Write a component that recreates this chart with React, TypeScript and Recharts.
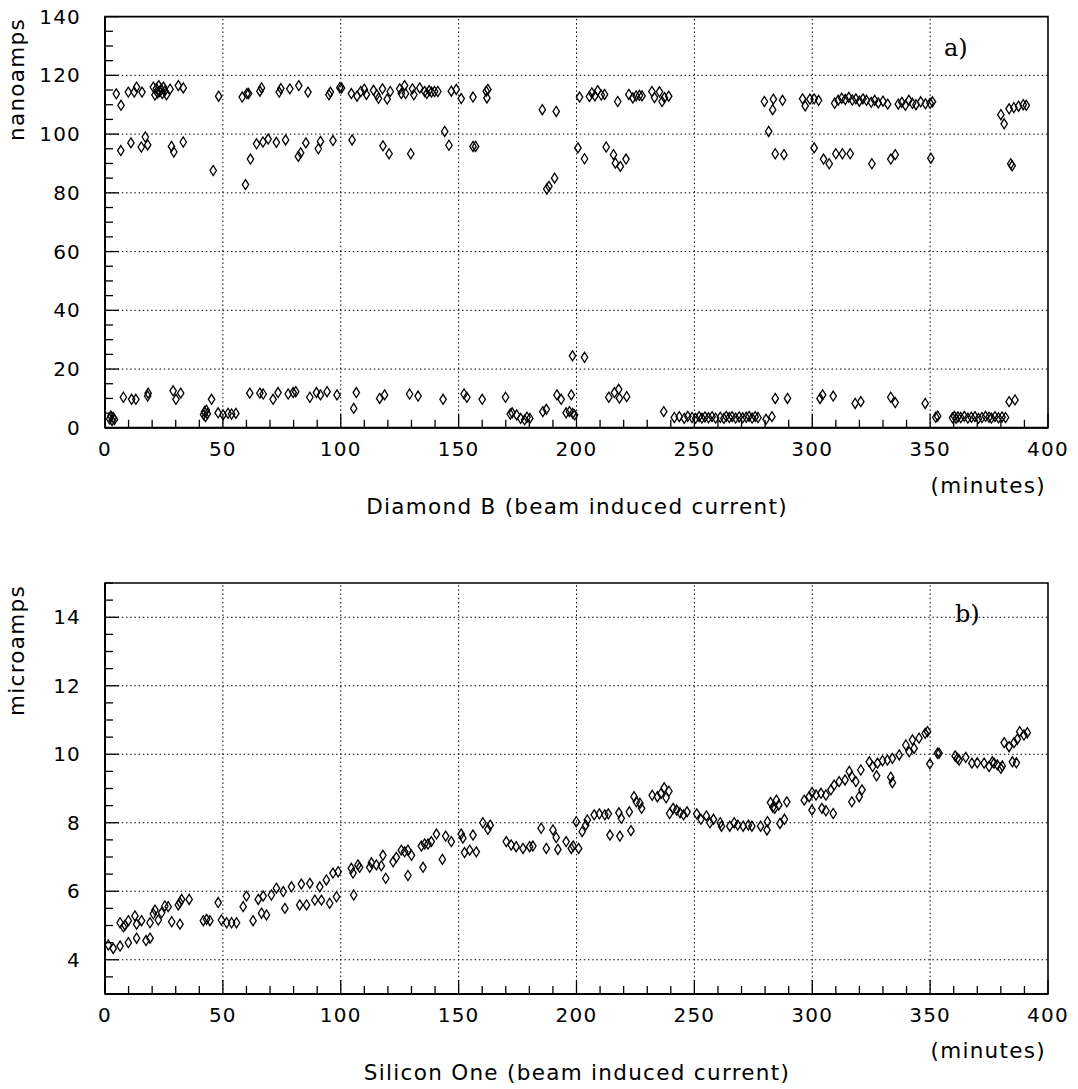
import React from 'react';
import { ScatterChart, Scatter, XAxis, YAxis, ReferenceLine, ReferenceArea } from 'recharts';

const FONT = '"DejaVu Sans", sans-serif';

// ---- axis ticks ----
const xTicks = [0, 10, 20, 30, 40, 50, 60, 70, 80, 90, 100, 110, 120, 130, 140, 150, 160, 170, 180, 190, 200, 210, 220, 230, 240, 250, 260, 270, 280, 290, 300, 310, 320, 330, 340, 350, 360, 370, 380, 390, 400];
const xMajor = [0, 50, 100, 150, 200, 250, 300, 350, 400];
const xGrid = [50, 100, 150, 200, 250, 300, 350];

const yTicksA = [0, 5, 10, 15, 20, 25, 30, 35, 40, 45, 50, 55, 60, 65, 70, 75, 80, 85, 90, 95, 100, 105, 110, 115, 120, 125, 130, 135, 140];
const yMajorA = [0, 20, 40, 60, 80, 100, 120, 140];
const yGridA = [20, 40, 60, 80, 100, 120];

const yTicksB = [3, 3.5, 4, 4.5, 5, 5.5, 6, 6.5, 7, 7.5, 8, 8.5, 9, 9.5, 10, 10.5, 11, 11.5, 12, 12.5, 13, 13.5, 14, 14.5, 15];
const yMajorB = [4, 6, 8, 10, 12, 14];
const yGridB = [4, 6, 8, 10, 12, 14];

// ---- Diamond B: [minutes, nanoamps] ----
const diamondUpper: [number, number][] = [
  [4.8, 113.7], [6.8, 109.8], [6.7, 94.4], [9.9, 114.3], [11, 97], [12.4, 114.3], [13.4, 116], [15.7, 114.3], [15.4, 95.6], [17.1, 99],
  [18.1, 96.3], [20.5, 116], [21.2, 113.3], [21.8, 115.5], [22.3, 114], [22.8, 116.5], [23.2, 114.5], [23.8, 115.2], [24.3, 113.8], [24.8, 116],
  [25.3, 114.6], [26.1, 113.4], [27.6, 115.3], [28.2, 95.8], [29.2, 93.9], [31.1, 116.5], [33.2, 115.7], [33.2, 97.3], [45.9, 87.6], [48.2, 112.9],
  [58.2, 112.6], [59.6, 82.8], [60.2, 113.8], [60.9, 113.8], [61.7, 91.5], [64.3, 96.7], [65.7, 114.6], [66.4, 115.7], [67, 97.3], [69.2, 98.3],
  [72.7, 97.2], [73.9, 114.3], [74.6, 115.5], [76.6, 98], [78.4, 115.4], [82, 92.4], [83, 93.6], [82.2, 116.5], [85.2, 97], [86.1, 114.3],
  [90.5, 95], [91.4, 97.5], [95, 113.4], [95.6, 114.3], [96.7, 97.8], [99.6, 115.8], [100.3, 115.7], [104.8, 98], [104.5, 113.8], [106.9, 112.9],
  [108.5, 114.5], [110, 115.3], [110.9, 113.5], [113.9, 114.9], [115.3, 113.4], [116, 112.2], [117.7, 115.4], [117.9, 96], [119.7, 111.9], [120.5, 93.3],
  [121, 114.5], [125, 115.4], [125.7, 113.8], [127.1, 116.5], [127.5, 113.8], [129.7, 93.3], [130.4, 115.4], [131, 113.4], [133.5, 115.7], [135.6, 114.5],
  [136.5, 113.8], [137.5, 114.8], [138.5, 114.3], [139.8, 114.5], [141.2, 114.5], [144.1, 100.9], [145.9, 96.2], [146.9, 114.6], [149, 115.2], [151.1, 112.1],
  [156.1, 95.8], [157.2, 95.8], [156.1, 112.6], [161.7, 114.6], [162.4, 115.2], [162, 112.3], [185.5, 108.3], [191.4, 107.7], [187.4, 81.3], [188.3, 82.2],
  [190.7, 85], [201.3, 112.6], [200.6, 95.3], [203.4, 91.6], [205.5, 112.8], [206.5, 114], [207.8, 113], [209, 114.8], [210.5, 113.3], [211.9, 113.5],
  [212.6, 95.6], [215.7, 93], [216.5, 90.1], [218.6, 89], [221, 91.5], [217.5, 111.1], [222.2, 113.5], [223.9, 112.3], [225.3, 113], [226.7, 113.2],
  [227.8, 113], [232, 114.5], [233.1, 112.4], [235.2, 114.4], [236.3, 111.1], [237.3, 112.4], [239.1, 112.9], [279.7, 111.1], [283.5, 111.9], [287.4, 111.5],
  [283.2, 108.3], [281.5, 100.9], [284.3, 93.3], [288, 93], [295.9, 112], [297, 109.6], [299, 111.9], [300.8, 112], [302.7, 111.5], [300.8, 95.3],
  [304.8, 91.5], [307.2, 89.9], [310, 93.3], [312.8, 93.3], [316.1, 93.3], [309.5, 110.5], [311, 111.5], [312.5, 112.2], [314, 111.8], [315.5, 112.5],
  [317, 111.6], [318.5, 112], [320, 111.2], [321.5, 112], [323, 111.5], [325, 110.8], [326.5, 111.5], [328, 110.6], [330, 111.2], [332, 110.2],
  [325.3, 89.9], [333.3, 91.5], [335.2, 93], [336.5, 110.2], [338, 110.8], [339.5, 109.8], [341, 111.5], [342.5, 110.5], [344, 110], [346, 111],
  [348, 110.3], [350, 110.5], [351, 111], [350.3, 91.8], [380, 106.6], [381.4, 103.5], [383.5, 108.6], [385.5, 109], [387.5, 109.5], [389.5, 110],
  [390.8, 109.8], [384.2, 89.9], [384.8, 89.2],
];

const diamondLower: [number, number][] = [
  [2, 3], [2.5, 4], [3, 2.5], [3.5, 3.5], [4, 2.8], [7.8, 10.4], [11.3, 9.7], [13.1, 9.7], [18.1, 10.8], [18.3, 11.8],
  [28.9, 12.6], [30.1, 9.7], [32.1, 11.8], [41.8, 4.5], [42.2, 5.5], [42.6, 3.8], [43, 6], [43.4, 4.8], [45.2, 9.7], [48, 5.1],
  [50.1, 4.4], [52.2, 4.9], [53.7, 4.7], [55.5, 4.9], [61.4, 11.8], [65.7, 11.8], [67.1, 11.5], [71.3, 9.7], [73.4, 12], [77.7, 11.5],
  [79.8, 12], [80.9, 12.3], [86.9, 10.4], [89.7, 12], [91.4, 11.2], [94.2, 12.3], [98.4, 11.2], [105.5, 6.6], [106.6, 12], [116.5, 10],
  [118.6, 11.2], [129.2, 11.5], [132.8, 10.8], [143.4, 9.7], [152.3, 11.5], [153.5, 10.4], [160, 9.7], [169.9, 10.4], [171.9, 4.7], [172.7, 5.1],
  [174.6, 4.4], [176.3, 3.2], [178, 2.7], [179, 3.6], [180.2, 3.2], [185.7, 5.5], [187.2, 6.3], [191.7, 11.2], [193.5, 9.7], [197.8, 11.2],
  [195.6, 5.1], [197, 5.5], [198.4, 4.9], [199.2, 4.4], [198.3, 24.5], [203.4, 24], [213.7, 10.4], [216.1, 12], [217.9, 13.1], [218.2, 10.1],
  [221.3, 10.6], [237, 5.5], [241.5, 3.5], [243.6, 3.8], [245.7, 3.2], [247.2, 3.9], [249, 3.5], [250.5, 3.2], [252, 3.8], [253.2, 3.3],
  [254.5, 3.7], [256, 3.4], [257.5, 3.8], [259, 3.3], [261, 3.6], [262.5, 3.2], [263.5, 3.9], [264.8, 3.5], [266, 3.8], [267.5, 3.3],
  [269, 3.7], [270.5, 3.4], [272, 3.6], [273.2, 3.9], [274.5, 3.3], [275.8, 3.8], [277, 3.5], [280.4, 2.9], [282.9, 3.8], [284.3, 10],
  [289.5, 10], [303.3, 10], [304.4, 11.2], [308.9, 10.8], [318.2, 8.3], [320.6, 8.9], [333.3, 10.4], [335.2, 8.6], [347.9, 8.3], [352.4, 3.6],
  [353.2, 4], [359.5, 3.4], [360.3, 3.9], [361, 3.2], [361.8, 3.7], [363, 3.5], [364.5, 3.9], [366, 3.3], [367.5, 3.6], [369, 3.8],
  [370.5, 3.2], [372, 3.5], [373.5, 3.9], [375, 3.6], [376, 3.3], [377.5, 3.8], [379, 3.4], [380.5, 3.7], [382, 3.5], [383.5, 8.9],
  [386, 9.5],
];

// ---- Silicon One: [minutes, microamps] ----
const siliconEarly: [number, number][] = [
  [1.4, 4.43], [3.5, 4.33], [6.4, 4.4], [9.9, 4.5], [13.4, 4.63], [17.4, 4.56], [19.1, 4.63], [6.4, 5.08], [7.8, 4.96], [8.5, 5.01],
  [9.9, 5.14], [12.7, 5.28], [13.4, 5.04], [15.5, 5.14], [19.1, 5.08], [20.5, 5.34], [21.2, 5.45], [22.6, 5.16], [24, 5.37], [25.4, 5.57],
  [26.8, 5.55], [28.3, 5.11], [31.8, 5.04], [31.1, 5.6], [31.8, 5.67], [32.5, 5.76], [35.7, 5.76], [41.7, 5.14], [43.1, 5.18], [44.5, 5.14],
  [48, 5.67], [49.4, 5.16], [51.6, 5.08], [53.7, 5.08], [55.8, 5.08], [58.6, 5.55], [60, 5.86], [62.8, 5.14], [65, 5.76], [66.4, 5.36],
  [67.1, 5.86], [68.5, 5.31], [70.6, 5.89], [72.7, 6.09], [75.6, 5.99], [76.3, 5.5], [79.1, 6.13], [82.6, 5.6], [83.3, 6.21], [85.5, 5.6],
  [86.9, 6.23], [89, 5.74], [91.1, 6.13], [91.8, 5.74], [93.9, 6.33], [95.3, 5.65], [96.7, 6.53], [98.2, 5.84], [98.9, 6.57], [104.5, 6.67],
  [105.2, 6.53], [105.5, 5.89], [107.3, 6.77], [108, 6.7], [112.3, 6.7], [113, 6.83], [115.1, 6.77], [117.2, 6.74], [117.9, 7.05], [119.1, 6.38],
  [122.2, 6.86], [123.6, 6.99], [125.7, 7.2], [127.1, 7.15], [128.5, 7.2], [130, 7.05], [128.5, 6.46], [134.2, 7.32], [135.6, 7.38], [137, 7.38],
  [138.4, 7.45], [140.6, 7.67], [134.9, 6.7], [143.1, 6.93], [144.5, 7.61], [146.9, 7.45], [151.1, 7.67], [151.8, 7.55], [152.5, 7.13], [154.7, 7.2],
  [156.1, 7.64], [157.5, 7.15], [160.3, 8], [162.4, 7.81], [163.4, 7.93], [170.2, 7.45], [172.3, 7.35], [174.4, 7.3], [177.3, 7.25], [180.1, 7.3],
  [181.5, 7.32], [185, 7.84], [187.2, 7.25], [190, 7.79], [191.4, 7.57], [192.1, 7.22], [195.6, 7.45], [197.8, 7.25], [199.9, 8.03], [200.9, 7.25],
  [198.6, 7.32],
];

const siliconLate: [number, number][] = [
  [202.4, 7.74], [203.9, 7.93], [204.6, 8.08], [207.5, 8.23], [209.7, 8.26], [212, 8.23], [213.5, 8.26], [214.2, 7.64], [218.4, 7.61], [223.1, 7.77],
  [218, 8.29], [219, 8.13], [222.4, 8.32], [224.4, 8.76], [225.4, 8.61], [226.9, 8.57], [227.6, 8.42], [232.1, 8.8], [234.3, 8.76], [235.8, 8.85],
  [237.2, 9.02], [239.2, 8.92], [238, 8.73], [239.5, 8.27], [241, 8.42], [242.5, 8.37], [243.9, 8.29], [245.4, 8.23], [246.9, 8.32], [251, 8.26],
  [252.8, 8.1], [255.1, 8.2], [256.6, 8.0], [258.1, 8.1], [261, 8.0], [261.5, 7.9], [265, 7.9], [266.9, 8.0], [268.4, 7.93], [270.7, 7.9],
  [272.9, 7.93], [274.4, 7.9], [278.1, 7.9], [281, 8.03], [280.8, 7.79], [282.3, 8.59], [283.3, 8.45], [284.8, 8.66], [285.8, 8.52], [289.2, 8.61],
  [284.1, 8.42], [286.3, 7.98], [288.2, 8.1], [296.6, 8.66], [298.7, 8.76], [299.9, 8.88], [301.6, 8.81], [303.7, 8.86], [305.8, 8.81], [307.9, 8.96],
  [309.3, 9.1], [311.4, 9.2], [313.9, 9.25], [315.7, 9.5], [316.8, 9.35], [318.5, 9.2], [299.9, 8.37], [304.1, 8.42], [305.8, 8.35], [308.9, 8.27],
  [316.8, 8.61], [319.9, 8.76], [321.1, 8.96], [320.6, 9.54], [324.2, 9.78], [325.6, 9.64], [327.7, 9.74], [329.8, 9.81], [331.9, 9.83], [334, 9.88],
  [336.9, 9.98], [339.7, 10.27], [342.5, 10.42], [345.3, 10.47], [347.9, 10.61], [348.9, 10.66], [343.2, 10.17], [341.1, 10.07], [327.3, 9.37], [333.3, 9.33],
  [334, 9.17], [349.9, 9.72], [353.1, 10.03], [353.8, 10.03], [360.6, 9.95], [361.6, 9.88], [362.3, 9.83], [365.1, 9.91], [367.7, 9.74], [370, 9.75],
  [372.9, 9.74], [375, 9.64], [377.1, 9.74], [378.5, 9.69], [380, 9.59], [380.6, 9.66], [376.4, 9.78], [384.9, 9.78], [386.6, 9.75], [381.4, 10.34],
  [383.5, 10.22], [385.6, 10.34], [387, 10.44], [388, 10.66], [389.8, 10.56], [391.2, 10.63],
];

const toPoints = (arr: [number, number][]) => arr.map(([x, y]) => ({ x, y }));
const diamondData = toPoints([...diamondUpper, ...diamondLower]);
const siliconData = toPoints([...siliconEarly, ...siliconLate]);

const OpenDiamond = (props: any) => {
  const { cx, cy } = props;
  if (cx == null || cy == null) return null;
  return (
    <path
      d={`M${cx},${cy - 5}L${cx + 3.2},${cy}L${cx},${cy + 5}L${cx - 3.2},${cy}Z`}
      fill="none"
      stroke="#000"
      strokeWidth={1.3}
    />
  );
};

const textStyle: React.CSSProperties = { fontFamily: FONT, fontSize: 20, letterSpacing: 1.2 };

const makeXTick = (majors: number[]) => (props: any) => {
  const { x, y, payload } = props;
  const major = majors.includes(payload.value);
  return (
    <g>
      <line x1={x} x2={x} y1={y} y2={y - (major ? 14 : 8)} stroke="#000" strokeWidth={1.3} />
      {major && (
        <text x={x} y={y + 28} textAnchor="middle" fill="#000" style={textStyle}>
          {payload.value}
        </text>
      )}
    </g>
  );
};

const makeYTick = (majors: number[]) => (props: any) => {
  const { x, y, payload } = props;
  const major = majors.includes(payload.value);
  return (
    <g>
      <line x1={x} x2={x + (major ? 14 : 8)} y1={y} y2={y} stroke="#000" strokeWidth={1.3} />
      {major && (
        <text x={x - 24} y={y + 7} textAnchor="end" fill="#000" style={textStyle}>
          {payload.value}
        </text>
      )}
    </g>
  );
};

const gridProps = { stroke: '#000', strokeWidth: 1, strokeDasharray: '1.5 2.7' };

export default function App() {
  const titleStyle: React.CSSProperties = { fontFamily: FONT, fontSize: 21.5, letterSpacing: 1.3 };
  return (
    <div style={{ position: 'fixed', top: 0, left: 0, width: 1078, height: 1089, background: '#fff' }}>
      <ScatterChart width={1078} height={560} margin={{ top: 16.6, right: 30, bottom: 0, left: 0 }}>
        <XAxis
          dataKey="x"
          type="number"
          domain={[0, 400]}
          ticks={xTicks}
          interval={0}
          height={132.2}
          tickSize={0}
          tickMargin={0}
          tickLine={false}
          axisLine={{ stroke: '#000', strokeWidth: 2 }}
          tick={makeXTick(xMajor)}
          allowDataOverflow
        />
        <YAxis
          dataKey="y"
          type="number"
          domain={[0, 140]}
          ticks={yTicksA}
          interval={0}
          width={105}
          tickSize={0}
          tickMargin={0}
          tickLine={false}
          axisLine={{ stroke: '#000', strokeWidth: 2 }}
          tick={makeYTick(yMajorA)}
          allowDataOverflow
        />
        {xGrid.map((v) => (
          <ReferenceLine key={'xa' + v} x={v} {...gridProps} />
        ))}
        {yGridA.map((v) => (
          <ReferenceLine key={'ya' + v} y={v} {...gridProps} />
        ))}
        <ReferenceArea x1={0} x2={400} y1={0} y2={140} fill="none" stroke="#000" strokeWidth={1.6} />
        <Scatter data={diamondData} shape={OpenDiamond} isAnimationActive={false} />
      </ScatterChart>
      <ScatterChart width={1078} height={529} margin={{ top: 23, right: 30, bottom: 0, left: 0 }}>
        <XAxis
          dataKey="x"
          type="number"
          domain={[0, 400]}
          ticks={xTicks}
          interval={0}
          height={95}
          tickSize={0}
          tickMargin={0}
          tickLine={false}
          axisLine={{ stroke: '#000', strokeWidth: 2 }}
          tick={makeXTick(xMajor)}
          allowDataOverflow
        />
        <YAxis
          dataKey="y"
          type="number"
          domain={[3, 15]}
          ticks={yTicksB}
          interval={0}
          width={105}
          tickSize={0}
          tickMargin={0}
          tickLine={false}
          axisLine={{ stroke: '#000', strokeWidth: 2 }}
          tick={makeYTick(yMajorB)}
          allowDataOverflow
        />
        {xGrid.map((v) => (
          <ReferenceLine key={'xb' + v} x={v} {...gridProps} />
        ))}
        {yGridB.map((v) => (
          <ReferenceLine key={'yb' + v} y={v} {...gridProps} />
        ))}
        <ReferenceArea x1={0} x2={400} y1={3} y2={15} fill="none" stroke="#000" strokeWidth={1.6} />
        <Scatter data={siliconData} shape={OpenDiamond} isAnimationActive={false} />
      </ScatterChart>
      <svg
        width={1078}
        height={1089}
        style={{ position: 'absolute', top: 0, left: 0, pointerEvents: 'none' }}
      >
        <text x={24} y={18} transform="rotate(-90 24 18)" textAnchor="end" fill="#000" style={titleStyle}>
          nanoamps
        </text>
        <text x={24} y={585} transform="rotate(-90 24 585)" textAnchor="end" fill="#000" style={titleStyle}>
          microamps
        </text>
        <text x={1046} y={493} textAnchor="end" fill="#000" style={titleStyle}>
          (minutes)
        </text>
        <text x={577} y={514} textAnchor="middle" fill="#000" style={titleStyle}>
          Diamond B (beam induced current)
        </text>
        <text x={1046} y={1058} textAnchor="end" fill="#000" style={titleStyle}>
          (minutes)
        </text>
        <text x={577} y={1080} textAnchor="middle" fill="#000" style={titleStyle}>
          Silicon One (beam induced current)
        </text>
        <text x={944} y={56} fill="#000" style={{ fontFamily: '"DejaVu Serif", serif', fontSize: 24 }}>
          a)
        </text>
        <text x={955} y={622} fill="#000" style={{ fontFamily: '"DejaVu Serif", serif', fontSize: 24 }}>
          b)
        </text>
      </svg>
    </div>
  );
}
